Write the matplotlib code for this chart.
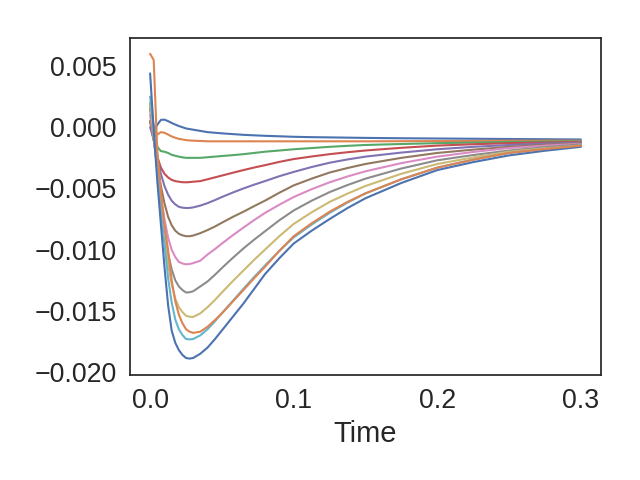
import matplotlib
matplotlib.use("Agg")
import matplotlib.pyplot as plt
import seaborn as sns
import numpy as np

# time samples (s)
time = [0, 0.0025, 0.005, 0.0075, 0.01, 0.0125, 0.015, 0.0175, 0.02, 0.0225, 0.025,
        0.0275, 0.03, 0.035, 0.04, 0.045, 0.05, 0.0575, 0.065, 0.0725, 0.08, 0.09,
        0.1, 0.1125, 0.125, 0.1375, 0.15, 0.175, 0.2, 0.225, 0.25, 0.275, 0.3]

# values in units of 1e-3
s0 = [2.0, -0.3, 0.2, 0.6, 0.62, 0.5, 0.35, 0.22, 0.1, 0.0, -0.1,
      -0.15, -0.2, -0.3, -0.4, -0.45, -0.5, -0.56, -0.62, -0.66, -0.7, -0.74,
      -0.78, -0.81, -0.83, -0.85, -0.87, -0.9, -0.92, -0.94, -0.96, -0.98, -1.0]
s1 = [1.5, 0.0, -0.6, -0.4, -0.45, -0.6, -0.75, -0.86, -0.95, -1.0, -1.05,
      -1.08, -1.1, -1.12, -1.15, -1.15, -1.15, -1.15, -1.15, -1.15, -1.15, -1.15,
      -1.15, -1.15, -1.15, -1.15, -1.15, -1.14, -1.13, -1.12, -1.1, -1.1, -1.1]
s2 = [2.0, 0.0, -1.6, -1.95, -2.0, -2.1, -2.25, -2.33, -2.4, -2.46, -2.5,
      -2.5, -2.5, -2.5, -2.45, -2.4, -2.35, -2.28, -2.2, -2.1, -2.0, -1.9,
      -1.8, -1.7, -1.6, -1.52, -1.45, -1.37, -1.3, -1.25, -1.2, -1.17, -1.15]
s3 = [0.5, -1.0, -2.4, -3.3, -3.8, -4.1, -4.3, -4.4, -4.45, -4.49, -4.5,
      -4.48, -4.45, -4.4, -4.25, -4.1, -3.95, -3.72, -3.5, -3.29, -3.1, -2.83,
      -2.6, -2.39, -2.2, -2.04, -1.9, -1.68, -1.5, -1.39, -1.3, -1.25, -1.2]
s4 = [0.0, -1.0, -2.5, -3.8, -4.8, -5.5, -6.0, -6.3, -6.5, -6.57, -6.6,
      -6.59, -6.55, -6.4, -6.2, -5.96, -5.7, -5.34, -5.0, -4.69, -4.4, -4.0,
      -3.65, -3.25, -2.9, -2.63, -2.4, -2.07, -1.8, -1.6, -1.45, -1.34, -1.25]
s5 = [0.5, -1.0, -3.0, -4.8, -6.2, -7.3, -8.0, -8.45, -8.7, -8.83, -8.9,
      -8.9, -8.85, -8.65, -8.4, -8.12, -7.8, -7.33, -6.9, -6.44, -6.0, -5.35,
      -4.75, -4.2, -3.7, -3.33, -3.0, -2.5, -2.1, -1.83, -1.6, -1.44, -1.3]
s6 = [1.0, -1.0, -3.3, -5.6, -7.5, -9.0, -10.0, -10.6, -11.0, -11.13, -11.2,
      -11.17, -11.1, -10.9, -10.4, -9.97, -9.5, -8.83, -8.2, -7.58, -7.0, -6.33,
      -5.7, -5.06, -4.5, -4.02, -3.6, -2.93, -2.4, -2.02, -1.7, -1.51, -1.35]
s7 = [1.5, -0.8, -3.5, -6.2, -8.5, -10.3, -11.6, -12.5, -13.0, -13.3, -13.5,
      -13.48, -13.4, -13.0, -12.6, -12.07, -11.5, -10.68, -9.9, -9.18, -8.5, -7.6,
      -6.8, -6.0, -5.3, -4.72, -4.2, -3.37, -2.7, -2.27, -1.9, -1.63, -1.4]
s8 = [2.0, -0.5, -3.5, -6.5, -9.0, -11.2, -12.8, -14.0, -14.7, -15.1, -15.4,
      -15.48, -15.5, -15.2, -14.7, -14.13, -13.5, -12.58, -11.7, -10.83, -10.0, -8.9,
      -7.9, -6.95, -6.1, -5.42, -4.8, -3.8, -3.0, -2.47, -2.0, -1.72, -1.5]
s9 = [2.5, 0.0, -3.5, -7.0, -9.5, -12.3, -14.3, -15.7, -16.5, -16.97, -17.3,
      -17.33, -17.3, -17.0, -16.5, -15.87, -15.2, -14.2, -13.2, -12.23, -11.3, -10.1,
      -9.0, -7.95, -7.0, -6.15, -5.4, -4.25, -3.3, -2.65, -2.1, -1.78, -1.5]
s10 = [4.4, -0.2, -4.4, -7.9, -11.4, -14.5, -16.6, -17.6, -18.2, -18.6, -18.85,
       -18.9, -18.85, -18.5, -18.0, -17.33, -16.6, -15.5, -14.4, -13.2, -12.0, -10.7,
       -9.5, -8.45, -7.5, -6.6, -5.8, -4.55, -3.5, -2.85, -2.3, -1.92, -1.6]
s11 = [6.0, 5.5, -1.9, -5.3, -8.0, -10.0, -12.5, -14.2, -15.3, -16.0, -16.5,
       -16.7, -16.8, -16.7, -16.3, -15.77, -15.2, -14.25, -13.3, -12.33, -11.4, -10.1,
       -8.9, -7.85, -6.9, -6.1, -5.4, -4.25, -3.3, -2.65, -2.1, -1.78, -1.5]

series = [s0, s1, s2, s3, s4, s5, s6, s7, s8, s9, s10, s11]

sns.set_theme(style="white", font_scale=1.75)
plt.rcParams['font.family'] = ['Liberation Sans', 'DejaVu Sans']

fig, ax = plt.subplots(figsize=(6.4, 4.8), dpi=100)
t = np.array(time)
for s in series:
    ax.plot(t, np.array(s) * 1e-3, linewidth=1.5)

ax.set_xlabel("Time")
ax.set_yticks([0.005, 0.0, -0.005, -0.010, -0.015, -0.020])
ax.set_yticklabels(["0.005", "0.000", "\u22120.005", "\u22120.010", "\u22120.015", "\u22120.020"])
ax.set_xticks([0.0, 0.1, 0.2, 0.3])
ax.set_xticklabels(["0.0", "0.1", "0.2", "0.3"])
ax.set_xlim(-0.014, 0.314)
ax.set_ylim(-0.02024, 0.00729)
fig.subplots_adjust(left=130/640, right=601/640, top=1-38/480, bottom=1-375/480)
fig.savefig("out.png", dpi=100)
